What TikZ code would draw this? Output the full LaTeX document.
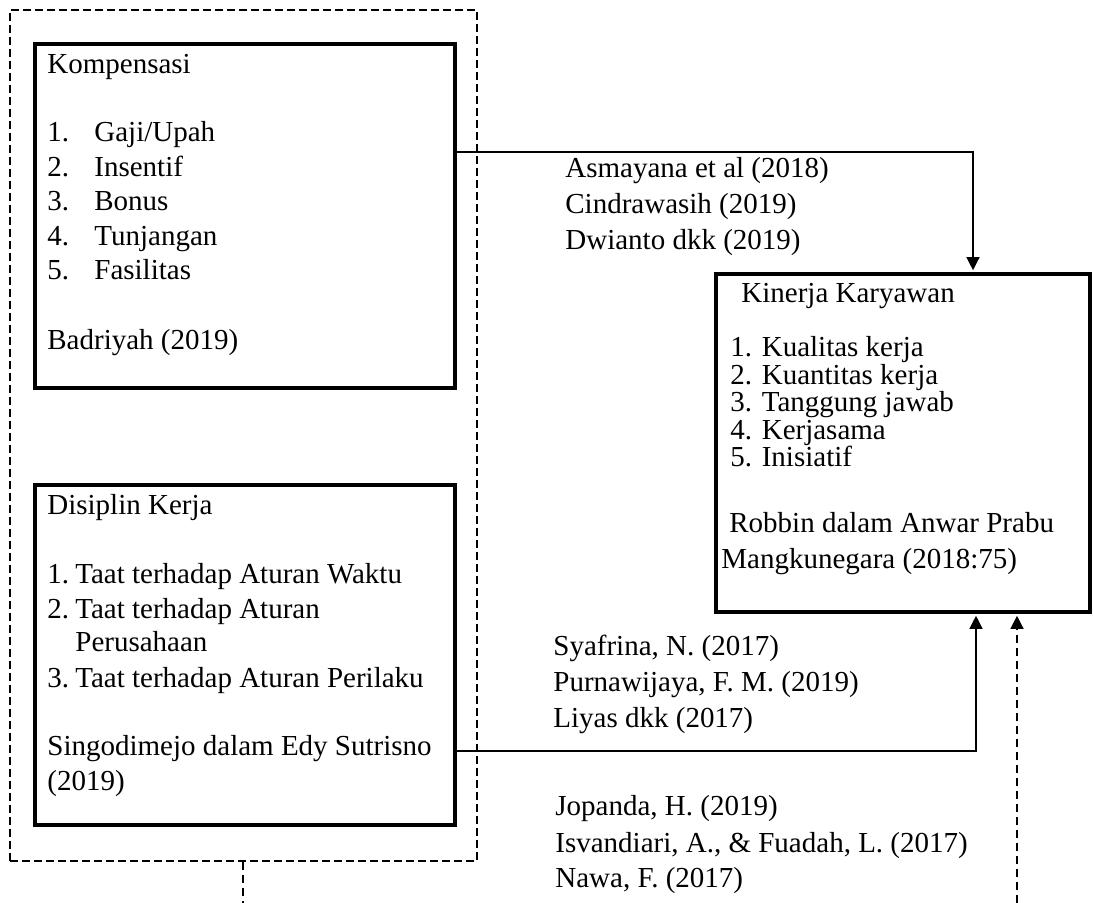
\documentclass[tikz,border=0pt]{standalone}
\usepackage{fontspec}
\setmainfont{Liberation Serif}
\usetikzlibrary{arrows.meta, fit}

\tikzset{
  kotak/.style={draw, line width=2pt, inner sep=0pt},
  garis/.style={line width=0.65pt},
  putus/.style={dash pattern=on 4pt off 2.5pt},
  panah/.style={garis, -{Triangle[length=6.5pt,width=6.5pt]}, shorten >=0.9pt},
  teks/.style={anchor=base west, inner sep=0pt, font=\fontsize{14.5}{17}\selectfont},
}

\begin{document}
\begin{tikzpicture}[x=0.5pt,y=-0.5pt]
\useasboundingbox (0,0) rectangle (1093,903);

% kotak variabel
\node[kotak, line width=0.75pt, dash pattern=on 4pt off 2pt, fit={(10,10) (477,861)}] (luar) {};
\node[kotak, fit={(35,44) (455,388)}] (komp) {};
\node[kotak, fit={(35,485) (455,825)}] (disp) {};
\node[kotak, fit={(716,274) (1090,612)}] (kin) {};

% Kompensasi
\node[teks] (kompT) at (47,74) {Kompensasi};
\foreach \t [count=\n] in {Gaji/Upah, Insentif, Bonus, Tunjangan, Fasilitas}{
  \node[teks] (kompN\n) at (47,142+34.5*\n-34.5) {\n.};
  \node[teks] (kompI\n) at (94,142+34.5*\n-34.5) {\t};
}
\node[teks] (kompS) at (47,350) {Badriyah (2019)};

% Disiplin Kerja
\node[teks] (dispT) at (47,515) {Disiplin Kerja};
\node[teks] (dispN1) at (47,583) {1.};
\node[teks] (dispI1) at (75,583) {Taat terhadap Aturan Waktu};
\node[teks] (dispN2) at (47,618) {2.};
\node[teks] (dispI2) at (75,618) {Taat terhadap Aturan};
\node[teks] (dispI2b) at (75,652) {Perusahaan};
\node[teks] (dispN3) at (47,687) {3.};
\node[teks] (dispI3) at (75,687) {Taat terhadap Aturan Perilaku};
\node[teks] (dispS) at (47,755) {Singodimejo dalam Edy Sutrisno};
\node[teks] (dispS2) at (47,790) {(2019)};

% Kinerja Karyawan
\node[teks] (kinT) at (741,303) {Kinerja Karyawan};
\foreach \t [count=\n] in {Kualitas kerja, Kuantitas kerja, Tanggung jawab, Kerjasama, Inisiatif}{
  \node[teks] (kinI\n) at (730,357+27.5*\n-27.5) {\n. \t};
}
\node[teks] (kinS) at (729,533) {Robbin dalam Anwar Prabu};
\node[teks] (kinS2) at (721,568) {Mangkunegara (2018:75)};

% rujukan
\node[teks] (r1) at (565,178) {Asmayana et al (2018)};
\node[teks] (r2) at (565,214) {Cindrawasih (2019)};
\node[teks] (r3) at (565,250) {Dwianto dkk (2019)};
\node[teks] (r4) at (553,655) {Syafrina, N. (2017)};
\node[teks] (r5) at (553,691) {Purnawijaya, F. M. (2019)};
\node[teks] (r6) at (553,727) {Liyas dkk (2017)};
\node[teks] (r7) at (555,815) {Jopanda, H. (2019)};
\node[teks] (r8) at (555,852) {Isvandiari, A., \& Fuadah, L. (2017)};
\node[teks] (r9) at (555,887) {Nawa, F. (2017)};

% hubungan
\coordinate (a1) at (973,152);
\draw[panah] (komp.east |- a1) -- (a1) -- (kin.north -| a1);
\coordinate (a2) at (976,751);
\draw[panah] (disp.east |- a2) -- (a2) -- (kin.south -| a2);
\coordinate (a3) at (1017,903);
\draw[panah, putus] (a3) -- (kin.south -| a3);
\coordinate (a4) at (243,903);
\draw[garis, putus] (luar.south -| a4) -- (a4);
\end{tikzpicture}
\end{document}
